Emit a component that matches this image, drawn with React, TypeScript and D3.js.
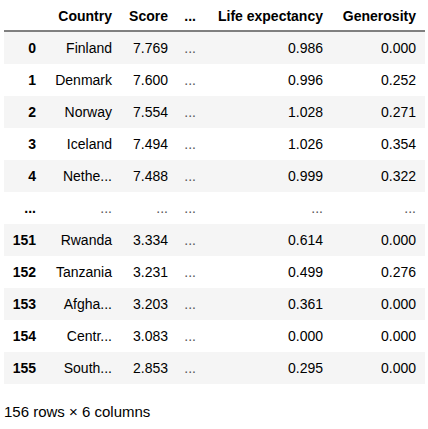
import React from 'react';
import * as d3 from 'd3';

const columns = ['Country', 'Score', '...', 'Life expectancy', 'Generosity'];
const rowIndex = ['0', '1', '2', '3', '4', '...', '151', '152', '153', '154', '155'];
const countries = ['Finland', 'Denmark', 'Norway', 'Iceland', 'Nethe...', '...', 'Rwanda', 'Tanzania', 'Afgha...', 'Centr...', 'South...'];
const scores = ['7.769', '7.600', '7.554', '7.494', '7.488', '...', '3.334', '3.231', '3.203', '3.083', '2.853'];
const lifeExpectancy = ['0.986', '0.996', '1.028', '1.026', '0.999', '...', '0.614', '0.499', '0.361', '0.000', '0.295'];
const generosity = ['0.000', '0.252', '0.271', '0.354', '0.322', '...', '0.000', '0.276', '0.000', '0.000', '0.000'];
const footer = '156 rows × 6 columns';

export default function App() {
  const width = 428;
  const height = 429;
  const top = 32;
  const rowH = 32;
  const y = d3.scaleBand<number>().domain(d3.range(rowIndex.length)).range([top, top + rowH * rowIndex.length]);
  // right edges of each column (index first)
  const colRight = [36, 112, 168, 196, 323, 416];
  const font = 'Arial, "Liberation Sans", sans-serif';

  const cells = (i: number) => [countries[i], scores[i], '...', lifeExpectancy[i], generosity[i]];

  return (
    <svg width={width} height={height} style={{ position: 'absolute', left: 0, top: 0, background: '#fff' }} fontFamily={font} fontSize={14}>
      {columns.map((c, j) => (
        <text key={c + j} x={colRight[j + 1]} y={16} dy="0.35em" textAnchor="end" fontWeight="bold" fill="#000">{c}</text>
      ))}
      <line x1={4} x2={425} y1={31} y2={31} stroke="#000" strokeWidth={1} />
      {rowIndex.map((r, i) => {
        const yy = y(i)!;
        const gap = r === '...';
        return (
          <g key={i}>
            {i % 2 === 0 && <rect x={4} y={yy} width={421} height={y.bandwidth()} fill="#f5f5f5" />}
            <text x={colRight[0]} y={yy + rowH / 2} dy="0.35em" textAnchor="end" fontWeight="bold" fill="#000">{r}</text>
            {cells(i).map((v, j) => (
              <text key={j} x={colRight[j + 1]} y={yy + rowH / 2} dy="0.35em" textAnchor="end" fill={gap || j === 2 ? '#555' : '#000'}>{v}</text>
            ))}
          </g>
        );
      })}
      <text x={4} y={412} dy="0.35em" fill="#000" fontSize={15}>{footer}</text>
    </svg>
  );
}
